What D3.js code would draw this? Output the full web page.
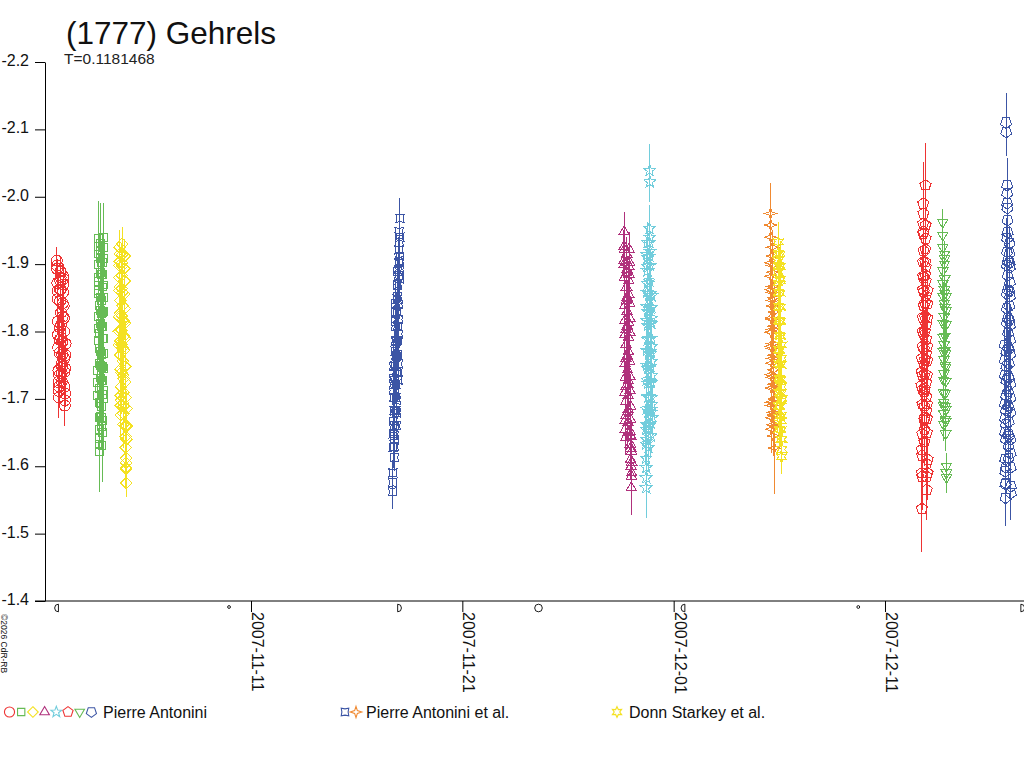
<!DOCTYPE html>
<html>
<head>
<meta charset="utf-8">
<script src="https://cdn.jsdelivr.net/npm/d3@7"></script>
<style>
  body { margin: 0; background: #fff; }
  text { font-family: "Liberation Sans", Arial, sans-serif; }
</style>
</head>
<body>
<div id="chart"></div>
<script>
// ---- chart data ----
var titleText = "(1777) Gehrels",
    periodText = "T=0.1181468",
    credit = "\u00a92026 CdR-RB";

var magTicks = [-2.2, -2.1, -2.0, -1.9, -1.8, -1.7, -1.6, -1.5, -1.4];
var dateTicks = ["2007-11-11", "2007-11-21", "2007-12-01", "2007-12-11"];

// moon phases shown under the time axis
var moonDates = ["2007-11-01T21:18Z", "2007-11-09T23:03Z", "2007-11-17T22:33Z", "2007-11-24T14:30Z",
                 "2007-12-01T12:44Z", "2007-12-09T17:40Z", "2007-12-17T10:17Z"];
var moonKinds = ["last", "new", "first", "full", "last", "new", "first"];

var observers = ["Pierre Antonini", "Pierre Antonini et al.", "Donn Starkey et al."];

// one entry per night: start of the session (UTC)
var nightStarts = ["2007-11-01T19:30Z", "2007-11-03T18:00Z", "2007-11-04T18:00Z", "2007-11-17T17:00Z",
                   "2007-11-28T15:30Z", "2007-11-29T16:30Z", "2007-12-05T14:00Z", "2007-12-05T22:30Z",
                   "2007-12-12T17:30Z", "2007-12-13T17:30Z", "2007-12-16T16:00Z"];

// [hours after start, relative magnitude, error]
var night1 = [[0.0,-1.905,0.020],[0.3,-1.893,0.015],[0.6,-1.872,0.018],[0.9,-1.848,0.030],[1.2,-1.815,0.020],
  [1.5,-1.776,0.025],[1.8,-1.742,0.018],[2.1,-1.712,0.022],[2.4,-1.702,0.030],[2.7,-1.735,0.020],
  [3.0,-1.768,0.045],[3.3,-1.806,0.020],[3.6,-1.845,0.018],[3.9,-1.876,0.025],[4.2,-1.889,0.020],
  [4.5,-1.862,0.050],[4.8,-1.828,0.022],[5.1,-1.790,0.018],[5.4,-1.752,0.030],[5.7,-1.726,0.020],
  [6.0,-1.748,0.025],[6.3,-1.785,0.018],[6.6,-1.822,0.040],[6.9,-1.858,0.020],[7.2,-1.882,0.018],
  [7.5,-1.870,0.025],[7.8,-1.838,0.020],[8.1,-1.800,0.035],[8.4,-1.760,0.020],[8.7,-1.718,0.022],
  [9.0,-1.690,0.030],[9.3,-1.708,0.020],[9.6,-1.745,0.050],[9.9,-1.782,0.025],
  [0.15,-1.898,0.020],[0.75,-1.860,0.020],[1.35,-1.795,0.025],[1.95,-1.725,0.020],[2.55,-1.718,0.030],
  [3.15,-1.788,0.020],[3.75,-1.862,0.020],[4.35,-1.880,0.030],[4.95,-1.810,0.020],[5.55,-1.738,0.020],
  [6.15,-1.766,0.025],[6.75,-1.842,0.020],[7.35,-1.878,0.020],[7.95,-1.820,0.030],[8.55,-1.740,0.020],
  [9.15,-1.698,0.025],[9.75,-1.765,0.020]];

var night2 = [[0.00,-1.705,0.020],[0.15,-1.742,0.030],[0.30,-1.786,0.025],[0.45,-1.822,0.040],[0.60,-1.861,0.030],
  [0.75,-1.899,0.025],[0.90,-1.938,0.055],[1.05,-1.915,0.030],[1.20,-1.874,0.025],[1.35,-1.838,0.035],
  [1.50,-1.797,0.020],[1.65,-1.752,0.040],[1.80,-1.716,0.030],[1.95,-1.672,0.025],[2.10,-1.641,0.050],
  [2.25,-1.622,0.060],[2.40,-1.655,0.030],[2.55,-1.693,0.025],[2.70,-1.731,0.035],[2.85,-1.770,0.020],
  [3.00,-1.812,0.030],[3.15,-1.851,0.040],[3.30,-1.887,0.025],[3.45,-1.930,0.060],[3.60,-1.921,0.035],
  [3.75,-1.884,0.025],[3.90,-1.846,0.030],[4.05,-1.808,0.020],[4.20,-1.766,0.035],[4.35,-1.727,0.040],
  [4.50,-1.688,0.025],[4.65,-1.659,0.030],[4.80,-1.631,0.055],[4.95,-1.668,0.030],[5.10,-1.706,0.025],
  [5.25,-1.748,0.035],[5.40,-1.789,0.020],[5.55,-1.828,0.030],[5.70,-1.866,0.040],[5.85,-1.903,0.030],
  [6.00,-1.940,0.050],[6.15,-1.908,0.025],[6.30,-1.869,0.030],[6.45,-1.830,0.020],[6.60,-1.790,0.035],
  [6.75,-1.745,0.040],[6.90,-1.712,0.030],
  [0.07,-1.724,0.030],[0.37,-1.805,0.025],[0.67,-1.880,0.035],[0.97,-1.926,0.040],[1.27,-1.856,0.030],
  [1.57,-1.775,0.025],[1.87,-1.694,0.030],[2.17,-1.632,0.045],[2.47,-1.674,0.030],[2.77,-1.750,0.025],
  [3.07,-1.831,0.035],[3.37,-1.908,0.040],[3.67,-1.902,0.030],[3.97,-1.827,0.025],[4.27,-1.746,0.030],
  [4.57,-1.673,0.035],[4.87,-1.650,0.040],[5.17,-1.727,0.030],[5.47,-1.808,0.025],[5.77,-1.884,0.035],
  [6.07,-1.924,0.040],[6.37,-1.850,0.030],[6.67,-1.768,0.025],[6.97,-1.700,0.030]];

var night3 = [[0.0,-1.780,0.020],[0.2,-1.822,0.025],[0.4,-1.861,0.030],[0.6,-1.898,0.020],[0.8,-1.925,0.025],
  [1.0,-1.904,0.030],[1.2,-1.866,0.020],[1.4,-1.827,0.025],[1.6,-1.786,0.030],[1.8,-1.744,0.020],
  [2.0,-1.705,0.025],[2.2,-1.676,0.035],[2.4,-1.698,0.020],[2.6,-1.739,0.025],[2.8,-1.781,0.030],
  [3.0,-1.823,0.020],[3.2,-1.864,0.025],[3.4,-1.902,0.030],[3.6,-1.930,0.025],[3.8,-1.897,0.020],
  [4.0,-1.858,0.030],[4.2,-1.817,0.025],[4.4,-1.776,0.020],[4.6,-1.735,0.030],[4.8,-1.694,0.025],
  [5.0,-1.662,0.035],[5.2,-1.689,0.020],[5.4,-1.730,0.025],[5.6,-1.772,0.030],[5.8,-1.815,0.020],
  [6.0,-1.856,0.025],[6.2,-1.893,0.030],[6.4,-1.912,0.025],[6.6,-1.875,0.020],[6.8,-1.834,0.030],
  [7.0,-1.790,0.025],[7.2,-1.748,0.030],[7.4,-1.702,0.025],[7.6,-1.660,0.030],[7.8,-1.628,0.035],
  [8.0,-1.598,0.030],[8.2,-1.612,0.025],[8.4,-1.575,0.020],[8.6,-1.640,0.030],[8.8,-1.686,0.025],
  [0.1,-1.800,0.025],[0.5,-1.880,0.030],[0.9,-1.915,0.025],[1.3,-1.846,0.020],[1.7,-1.765,0.030],
  [2.1,-1.690,0.025],[2.5,-1.718,0.030],[2.9,-1.802,0.025],[3.3,-1.883,0.020],[3.7,-1.914,0.030],
  [4.1,-1.838,0.025],[4.5,-1.756,0.030],[4.9,-1.678,0.025],[5.3,-1.710,0.020],[5.7,-1.793,0.030],
  [6.1,-1.875,0.025],[6.5,-1.894,0.030],[6.9,-1.812,0.025],[7.3,-1.725,0.030],[7.7,-1.644,0.025],
  [8.1,-1.605,0.030],[8.5,-1.596,0.025],[8.9,-1.660,0.030]];

var night4 = [[0.0,-1.562,0.025],[0.2,-1.590,0.020],[0.4,-1.628,0.030],[0.6,-1.667,0.020],[0.8,-1.712,0.025],
  [1.0,-1.748,0.035],[1.2,-1.721,0.020],[1.4,-1.683,0.025],[1.6,-1.645,0.030],[1.8,-1.613,0.020],
  [2.0,-1.640,0.025],[2.2,-1.682,0.020],[2.4,-1.727,0.030],[2.6,-1.771,0.025],[2.8,-1.815,0.020],
  [3.0,-1.842,0.030],[3.2,-1.808,0.025],[3.4,-1.764,0.020],[3.6,-1.722,0.030],[3.8,-1.683,0.025],
  [4.0,-1.660,0.020],[4.2,-1.698,0.030],[4.4,-1.741,0.025],[4.6,-1.785,0.020],[4.8,-1.829,0.030],
  [5.0,-1.868,0.025],[5.2,-1.889,0.020],[5.4,-1.852,0.030],[5.6,-1.808,0.025],[5.8,-1.766,0.020],
  [6.0,-1.728,0.030],[6.2,-1.752,0.025],[6.4,-1.796,0.020],[6.6,-1.840,0.030],[6.8,-1.883,0.025],
  [7.0,-1.921,0.020],[7.2,-1.948,0.030],[7.4,-1.932,0.025],[7.6,-1.905,0.020],[7.8,-1.878,0.030],
  [8.0,-1.912,0.025],[8.2,-1.968,0.030],
  [0.1,-1.576,0.025],[0.5,-1.648,0.030],[0.9,-1.730,0.020],[1.3,-1.702,0.025],[1.7,-1.629,0.030],
  [2.1,-1.661,0.020],[2.5,-1.749,0.025],[2.9,-1.828,0.030],[3.3,-1.786,0.020],[3.7,-1.702,0.025],
  [4.1,-1.679,0.030],[4.5,-1.763,0.020],[4.9,-1.848,0.025],[5.3,-1.870,0.030],[5.7,-1.787,0.020],
  [6.1,-1.740,0.025],[6.5,-1.818,0.030],[6.9,-1.902,0.020],[7.3,-1.940,0.025],[7.7,-1.892,0.030],
  [8.1,-1.940,0.030]];

var night5 = [[0.0,-1.905,0.025],[0.2,-1.948,0.030],[0.4,-1.921,0.020],[0.6,-1.880,0.025],[0.8,-1.838,0.020],
  [1.0,-1.795,0.030],[1.2,-1.752,0.025],[1.4,-1.710,0.020],[1.6,-1.668,0.030],[1.8,-1.642,0.025],
  [2.0,-1.675,0.020],[2.2,-1.718,0.025],[2.4,-1.760,0.030],[2.6,-1.803,0.020],[2.8,-1.846,0.025],
  [3.0,-1.887,0.030],[3.2,-1.915,0.025],[3.4,-1.892,0.020],[3.6,-1.851,0.025],[3.8,-1.808,0.030],
  [4.0,-1.764,0.020],[4.2,-1.722,0.025],[4.4,-1.681,0.030],[4.6,-1.650,0.025],[4.8,-1.684,0.020],
  [5.0,-1.727,0.025],[5.2,-1.770,0.030],[5.4,-1.813,0.020],[5.6,-1.855,0.025],[5.8,-1.896,0.030],
  [6.0,-1.922,0.025],[6.2,-1.884,0.020],[6.4,-1.842,0.025],[6.6,-1.799,0.030],[6.8,-1.755,0.020],
  [7.0,-1.712,0.025],[7.2,-1.670,0.030],[7.4,-1.633,0.025],[7.6,-1.610,0.030],[7.8,-1.645,0.025],
  [8.0,-1.688,0.020],[8.2,-1.600,0.035],[8.4,-1.568,0.040],[8.6,-1.622,0.030],[8.8,-1.590,0.035],
  [0.1,-1.926,0.025],[0.5,-1.900,0.030],[0.9,-1.816,0.020],[1.3,-1.731,0.025],[1.7,-1.655,0.030],
  [2.1,-1.696,0.020],[2.5,-1.781,0.025],[2.9,-1.866,0.030],[3.3,-1.903,0.020],[3.7,-1.830,0.025],
  [4.1,-1.743,0.030],[4.5,-1.665,0.020],[4.9,-1.705,0.025],[5.3,-1.791,0.030],[5.7,-1.875,0.020],
  [6.1,-1.903,0.025],[6.5,-1.820,0.030],[6.9,-1.733,0.020],[7.3,-1.651,0.025],[7.7,-1.627,0.030],
  [8.1,-1.644,0.025],[8.5,-1.585,0.035],[8.7,-1.606,0.030]];

var night6 = [[0.00,-1.655,0.030],[0.15,-1.612,0.035],[0.30,-1.568,0.045],[0.45,-1.598,0.030],[0.60,-1.640,0.025],
  [0.75,-1.685,0.030],[0.90,-1.728,0.025],[1.05,-1.772,0.030],[1.20,-1.816,0.025],[1.35,-1.858,0.030],
  [1.50,-1.897,0.025],[1.65,-1.932,0.030],[1.80,-1.910,0.025],[1.95,-1.871,0.030],[2.10,-1.830,0.025],
  [2.25,-1.788,0.030],[2.40,-1.745,0.025],[2.55,-1.702,0.030],[2.70,-1.662,0.025],[2.85,-1.628,0.035],
  [3.00,-1.660,0.030],[3.15,-1.703,0.025],[3.30,-1.747,0.030],[3.45,-1.790,0.025],[3.60,-1.833,0.030],
  [3.75,-1.875,0.025],[3.90,-1.912,0.030],[4.05,-1.953,0.035],[4.20,-2.039,0.040],[4.35,-2.022,0.030],
  [4.50,-1.940,0.030],[4.65,-1.898,0.025],[4.80,-1.856,0.030],[4.95,-1.813,0.025],[5.10,-1.770,0.030],
  [5.25,-1.726,0.025],[5.40,-1.684,0.030],[5.55,-1.645,0.030],[5.70,-1.680,0.025],[5.85,-1.724,0.030],
  [6.00,-1.768,0.025],[6.15,-1.812,0.030],[6.30,-1.853,0.025],[6.45,-1.820,0.030],[6.60,-1.778,0.025],
  [6.75,-1.735,0.030],[6.90,-1.692,0.025],
  [0.07,-1.633,0.030],[0.37,-1.583,0.040],[0.67,-1.662,0.025],[0.97,-1.750,0.030],[1.27,-1.837,0.025],
  [1.57,-1.914,0.030],[1.87,-1.890,0.025],[2.17,-1.809,0.030],[2.47,-1.723,0.025],[2.77,-1.645,0.030],
  [3.07,-1.681,0.025],[3.37,-1.768,0.030],[3.67,-1.854,0.025],[3.97,-1.932,0.030],[4.57,-1.919,0.025],
  [4.87,-1.835,0.030],[5.17,-1.748,0.025],[5.47,-1.664,0.030],[5.77,-1.702,0.025],[6.07,-1.790,0.030],
  [6.37,-1.836,0.025],[6.67,-1.756,0.030],[6.97,-1.672,0.025]];

var night7 = [[0.00,-1.975,0.045],[0.15,-1.940,0.030],[0.30,-1.902,0.025],[0.45,-1.862,0.030],[0.60,-1.820,0.025],
  [0.75,-1.778,0.030],[0.90,-1.736,0.025],[1.05,-1.695,0.030],[1.20,-1.655,0.035],[1.35,-1.690,0.025],
  [1.50,-1.732,0.030],[1.65,-1.775,0.025],[1.80,-1.818,0.030],[1.95,-1.858,0.025],[2.10,-1.898,0.030],
  [2.25,-1.925,0.025],[2.40,-1.888,0.030],[2.55,-1.846,0.025],[2.70,-1.803,0.030],[2.85,-1.760,0.025],
  [3.00,-1.717,0.030],[3.15,-1.676,0.025],[3.30,-1.645,0.030],[3.45,-1.680,0.025],[3.60,-1.722,0.030],
  [3.75,-1.765,0.025],[3.90,-1.808,0.030],[4.05,-1.850,0.025],[4.20,-1.627,0.068],[4.35,-1.700,0.040],
  [0.07,-1.958,0.030],[0.37,-1.882,0.025],[0.67,-1.799,0.030],[0.97,-1.716,0.025],[1.27,-1.672,0.030],
  [1.57,-1.753,0.025],[1.87,-1.838,0.030],[2.17,-1.912,0.025],[2.47,-1.867,0.030],[2.77,-1.782,0.025],
  [3.07,-1.696,0.030],[3.37,-1.662,0.025],[3.67,-1.743,0.030],[3.97,-1.829,0.025],[4.27,-1.660,0.030]];

var night8 = [[0.00,-1.872,0.025],[0.15,-1.905,0.030],[0.30,-1.933,0.030],[0.45,-1.898,0.025],[0.60,-1.858,0.020],
  [0.75,-1.816,0.025],[0.90,-1.773,0.020],[1.05,-1.731,0.025],[1.20,-1.690,0.020],[1.35,-1.655,0.025],
  [1.50,-1.688,0.020],[1.65,-1.730,0.025],[1.80,-1.772,0.020],[1.95,-1.815,0.025],[2.10,-1.857,0.020],
  [2.25,-1.896,0.025],[2.40,-1.915,0.020],[2.55,-1.878,0.025],[2.70,-1.836,0.020],[2.85,-1.793,0.025],
  [3.00,-1.750,0.020],[3.15,-1.708,0.025],[3.30,-1.668,0.020],[3.45,-1.640,0.025],[3.60,-1.675,0.020],
  [3.75,-1.718,0.025],[3.90,-1.760,0.020],[4.05,-1.614,0.025],[4.20,-1.640,0.020],[4.35,-1.700,0.025],
  [0.07,-1.888,0.025],[0.37,-1.916,0.030],[0.67,-1.837,0.025],[0.97,-1.752,0.020],[1.27,-1.672,0.025],
  [1.57,-1.709,0.020],[1.87,-1.794,0.025],[2.17,-1.876,0.020],[2.47,-1.897,0.025],[2.77,-1.815,0.020],
  [3.07,-1.729,0.025],[3.37,-1.654,0.020],[3.67,-1.697,0.025],[3.97,-1.780,0.020],[4.27,-1.625,0.025]];

var night9 = [[0.00,-1.720,0.030],[0.15,-1.760,0.025],[0.30,-1.625,0.060],[0.45,-1.537,0.065],[0.60,-1.585,0.050],
  [0.75,-1.648,0.035],[0.90,-1.692,0.030],[1.05,-1.735,0.025],[1.20,-1.778,0.030],[1.35,-1.821,0.025],
  [1.50,-1.862,0.030],[1.65,-1.903,0.025],[1.80,-1.945,0.040],[1.95,-1.990,0.062],[2.10,-1.975,0.045],
  [2.25,-1.920,0.030],[2.40,-1.880,0.025],[2.55,-1.838,0.030],[2.70,-1.795,0.025],[2.85,-1.752,0.030],
  [3.00,-1.710,0.025],[3.15,-1.668,0.030],[3.30,-1.636,0.035],[3.45,-1.672,0.025],[3.60,-1.715,0.030],
  [3.75,-1.758,0.025],[3.90,-1.800,0.030],[4.05,-1.842,0.025],[4.20,-1.884,0.030],[4.35,-1.922,0.035],
  [4.50,-2.017,0.063],[4.65,-1.938,0.030],[4.80,-1.896,0.025],[4.95,-1.853,0.030],[5.10,-1.810,0.025],
  [5.25,-1.767,0.030],[5.40,-1.724,0.025],[5.55,-1.682,0.030],[5.70,-1.604,0.045],[5.85,-1.565,0.045],
  [6.00,-1.650,0.030],[6.15,-1.692,0.025],[6.30,-1.735,0.030],[6.45,-1.778,0.025],[6.60,-1.820,0.030],
  [6.75,-1.861,0.025],[6.90,-1.590,0.040],
  [0.07,-1.740,0.030],[0.37,-1.590,0.050],[0.67,-1.616,0.040],[0.97,-1.714,0.030],[1.27,-1.800,0.025],
  [1.57,-1.882,0.030],[1.87,-1.960,0.040],[2.17,-1.948,0.035],[2.47,-1.859,0.030],[2.77,-1.774,0.025],
  [3.07,-1.689,0.030],[3.37,-1.654,0.030],[3.67,-1.737,0.025],[3.97,-1.821,0.030],[4.27,-1.903,0.025],
  [4.57,-1.958,0.040],[4.87,-1.875,0.030],[5.17,-1.789,0.025],[5.47,-1.703,0.030],[5.77,-1.585,0.040],
  [6.07,-1.671,0.030],[6.37,-1.757,0.025],[6.67,-1.841,0.030],[6.97,-1.610,0.035]];

var night10 = [[0.00,-1.962,0.020],[0.15,-1.925,0.045],[0.30,-1.890,0.025],[0.45,-1.852,0.020],[0.60,-1.812,0.025],
  [0.75,-1.770,0.020],[0.90,-1.728,0.025],[1.05,-1.690,0.020],[1.20,-1.662,0.025],[1.35,-1.695,0.020],
  [1.50,-1.737,0.025],[1.65,-1.780,0.020],[1.80,-1.822,0.025],[1.95,-1.862,0.020],[2.10,-1.900,0.025],
  [2.25,-1.915,0.020],[2.40,-1.878,0.025],[2.55,-1.836,0.020],[2.70,-1.793,0.025],[2.85,-1.750,0.020],
  [3.00,-1.708,0.025],[3.15,-1.670,0.020],[3.30,-1.648,0.025],[3.45,-1.684,0.020],[3.60,-1.726,0.025],
  [3.75,-1.768,0.020],[3.90,-1.810,0.025],[4.05,-1.852,0.020],[4.20,-1.590,0.025],[4.35,-1.583,0.022],
  [0.07,-1.943,0.030],[0.37,-1.871,0.025],[0.67,-1.791,0.020],[0.97,-1.709,0.025],[1.27,-1.678,0.020],
  [1.57,-1.758,0.025],[1.87,-1.842,0.020],[2.17,-1.908,0.025],[2.47,-1.857,0.020],[2.77,-1.772,0.025],
  [3.07,-1.689,0.020],[3.37,-1.666,0.025],[3.67,-1.747,0.020],[3.97,-1.831,0.025],[4.27,-1.600,0.020]];

var night11 = [[0.00,-1.780,0.025],[0.15,-1.735,0.030],[0.30,-1.692,0.025],[0.45,-1.650,0.030],[0.60,-1.610,0.035],
  [0.75,-1.573,0.040],[0.90,-1.553,0.042],[1.05,-1.598,0.030],[1.20,-1.640,0.025],[1.35,-1.683,0.030],
  [1.50,-2.110,0.044],[1.65,-2.096,0.035],[1.80,-1.727,0.025],[1.95,-1.770,0.030],[2.10,-1.813,0.025],
  [2.25,-1.856,0.030],[2.40,-1.898,0.025],[2.55,-1.938,0.030],[2.70,-2.017,0.040],[2.85,-2.005,0.035],
  [3.00,-1.983,0.030],[3.15,-1.947,0.025],[3.30,-1.905,0.030],[3.45,-1.862,0.025],[3.60,-1.820,0.030],
  [3.75,-1.776,0.025],[3.90,-1.733,0.030],[4.05,-1.690,0.025],[4.20,-1.648,0.030],[4.35,-1.612,0.035],
  [4.50,-1.645,0.030],[4.65,-1.688,0.025],[4.80,-1.731,0.030],[4.95,-1.774,0.025],[5.10,-1.817,0.030],
  [5.25,-1.860,0.025],[5.40,-1.902,0.030],[5.55,-1.931,0.025],[5.70,-1.895,0.030],[5.85,-1.852,0.025],
  [6.00,-1.809,0.030],[6.15,-1.766,0.025],[6.30,-1.722,0.030],[6.45,-1.680,0.025],[6.60,-1.640,0.030],
  [6.75,-1.598,0.035],[6.90,-1.570,0.040],
  [0.07,-1.757,0.030],[0.37,-1.671,0.025],[0.67,-1.592,0.035],[0.97,-1.575,0.040],[1.27,-1.662,0.030],
  [1.57,-1.705,0.025],[1.87,-1.748,0.030],[2.17,-1.834,0.025],[2.47,-1.918,0.030],[2.77,-1.990,0.035],
  [3.07,-1.965,0.030],[3.37,-1.883,0.025],[3.67,-1.798,0.030],[3.97,-1.711,0.025],[4.27,-1.630,0.030],
  [4.57,-1.666,0.025],[4.87,-1.752,0.030],[5.17,-1.838,0.025],[5.47,-1.916,0.030],[5.77,-1.873,0.025],
  [6.07,-1.787,0.030],[6.37,-1.701,0.025],[6.67,-1.619,0.030],[6.97,-1.560,0.040]];

var nights = [night1, night2, night3, night4, night5, night6, night7, night8, night9, night10, night11];

// ---- styling ----
var svgWidth = 1024, svgHeight = 768;

function polygon(n, r, rot) {
  var pts = d3.range(n).map(function(i) {
    var a = -Math.PI / 2 + rot + i * 2 * Math.PI / n;
    return [r * Math.cos(a), r * Math.sin(a)];
  });
  return "M" + pts.map(function(p) { return p[0].toFixed(2) + "," + p[1].toFixed(2); }).join("L") + "Z";
}
function star(n, ro, ri, rot) {
  var pts = d3.range(n * 2).map(function(i) {
    var a = -Math.PI / 2 + rot + i * Math.PI / n, r = i % 2 ? ri : ro;
    return [r * Math.cos(a), r * Math.sin(a)];
  });
  return "M" + pts.map(function(p) { return p[0].toFixed(2) + "," + p[1].toFixed(2); }).join("L") + "Z";
}
function circle(r) {
  return "M" + (-r) + ",0A" + r + "," + r + " 0 1,0 " + r + ",0A" + r + "," + r + " 0 1,0 " + (-r) + ",0Z";
}

var shapes = {
  circle: circle(5.5),
  square: polygon(4, 5.6, Math.PI / 4),
  diamond: polygon(4, 5.8, 0),
  triangle: polygon(3, 6, 0),
  star5: star(5, 6.2, 2.6, 0),
  pentagon: polygon(5, 5.8, 0),
  triDown: polygon(3, 6, Math.PI),
  pentDown: polygon(5, 5.8, Math.PI),
  crossSquare: star(4, 5.8, 3.4, Math.PI / 4),
  star4: star(4, 6.2, 2.1, 0),
  star6: star(6, 5.8, 3, 0)
};

// per night: colour and symbol
var nightStyle = [
  {color: "#ee3333", shape: "circle"},
  {color: "#66bb55", shape: "square"},
  {color: "#f4e122", shape: "diamond"},
  {color: "#3c55a5", shape: "crossSquare"},
  {color: "#b0317c", shape: "triangle"},
  {color: "#72cddc", shape: "star5"},
  {color: "#f08a32", shape: "star4"},
  {color: "#f4e122", shape: "star6"},
  {color: "#ee3333", shape: "pentagon"},
  {color: "#66bb55", shape: "triDown"},
  {color: "#3c55a5", shape: "pentDown"}
];

var svg = d3.select("#chart").append("svg")
  .attr("width", svgWidth)
  .attr("height", svgHeight);

var x = d3.scaleUtc()
  .domain([new Date("2007-11-01T06:03Z"), new Date("2007-12-17T13:52Z")])
  .range([45, 1024]);
var y = d3.scaleLinear()
  .domain([-2.2, -1.4])
  .range([62, 601]);

// title
svg.append("text").attr("x", 66).attr("y", 44)
  .style("font-size", "31.5px").attr("fill", "#111").text(titleText);
svg.append("text").attr("x", 64).attr("y", 64)
  .style("font-size", "15.5px").attr("fill", "#222").text(periodText);

// y axis
var yAxis = svg.append("g")
  .attr("transform", "translate(45,0)")
  .call(d3.axisLeft(y).tickValues(magTicks).tickSize(10).tickSizeOuter(0).tickPadding(6)
    .tickFormat(function(d) { return d.toFixed(1); }));
yAxis.selectAll("text").style("font-size", "16px").attr("dy", "0.22em")
  .style("font-family", "'Liberation Sans', Arial, sans-serif").attr("fill", "#111");

// x axis
svg.append("line").attr("x1", 35).attr("x2", 1024).attr("y1", 601).attr("y2", 601)
  .attr("stroke", "#000");
var xAxis = svg.append("g")
  .attr("transform", "translate(0,601)")
  .call(d3.axisBottom(x).tickValues(dateTicks.map(function(d) { return new Date(d + "T00:00Z"); }))
    .tickSize(11).tickSizeOuter(0).tickFormat(""));
xAxis.select(".domain").remove();
svg.selectAll(".dateLabel")
  .data(dateTicks)
  .enter()
  .append("text")
  .attr("class", "dateLabel")
  .attr("transform", function(d) {
    return "translate(" + (x(new Date(d + "T00:00Z")) + 1) + ",612) rotate(90)";
  })
  .style("font-size", "16px")
  .attr("fill", "#111")
  .text(function(d) { return d; });

// moon phases
var moon = svg.append("g").attr("fill", "none").attr("stroke", "#000").attr("stroke-width", 0.9);
moonDates.forEach(function(d, i) {
  var mx = x(new Date(d)), my = 608, kind = moonKinds[i];
  if (kind === "new") {
    moon.append("circle").attr("cx", mx).attr("cy", my - 1).attr("r", 1.4);
  } else if (kind === "full") {
    moon.append("circle").attr("cx", mx).attr("cy", my).attr("r", 3.8);
  } else {
    var sweep = kind === "first" ? 1 : 0;
    moon.append("path")
      .attr("d", "M" + mx + "," + (my - 3.8) + "A3.8,3.8 0 0," + sweep + " " + mx + "," + (my + 3.8) + "Z");
  }
});

// light curve points with error bars
nights.forEach(function(points, i) {
  var start = new Date(nightStarts[i]).getTime(),
      style = nightStyle[i];
  var g = svg.append("g").attr("stroke", style.color).attr("fill", "none")
    .attr("stroke-width", 1).attr("shape-rendering", "crispEdges");
  function px(d) { return x(new Date(start + d[0] * 3600000)); }
  g.selectAll("line")
    .data(points)
    .enter()
    .append("line")
    .attr("x1", px).attr("x2", px)
    .attr("y1", function(d) { return y(d[1] - d[2]); })
    .attr("y2", function(d) { return y(d[1] + d[2]); });
  g.selectAll("path")
    .data(points)
    .enter()
    .append("path")
    .attr("d", shapes[style.shape])
    .attr("transform", function(d) { return "translate(" + px(d) + "," + y(d[1]) + ")"; });
});

// legend
var legendRows = [
  {x: 103, symbols: [0, 1, 2, 4, 5, 8, 9, 10], sx: 9.5},
  {x: 366, symbols: [3, 6], sx: 345},
  {x: 629, symbols: [7], sx: 617}
];
var legendStep = [11.7, 11, 0];
legendRows.forEach(function(row, r) {
  row.symbols.forEach(function(n, k) {
    svg.append("path")
      .attr("d", shapes[nightStyle[n].shape])
      .attr("transform", "translate(" + (row.sx + k * legendStep[r]) + ",712) scale(0.92)")
      .attr("fill", "none").attr("stroke", nightStyle[n].color).attr("stroke-width", 1.2);
  });
  svg.append("text").attr("x", row.x).attr("y", 718)
    .style("font-size", "16px").attr("fill", "#111").text(observers[r]);
});

// credit line
svg.append("text")
  .attr("transform", "translate(1,614) rotate(90)")
  .style("font-size", "8.5px").attr("fill", "#111").text(credit);
</script>
</body>
</html>
